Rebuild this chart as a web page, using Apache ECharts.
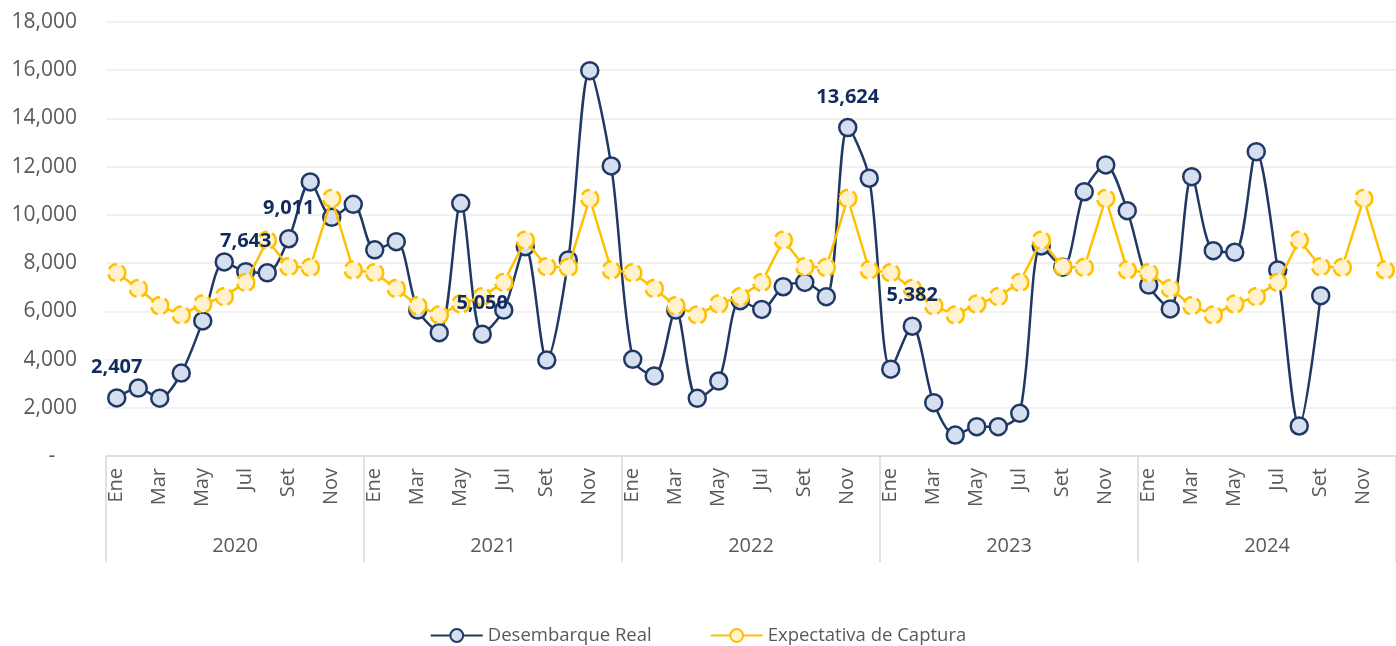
<!DOCTYPE html>
<html>
<head>
<meta charset="utf-8">
<script src="https://cdn.jsdelivr.net/npm/echarts@6/dist/echarts.min.js"></script>
<style>
  html, body { margin: 0; padding: 0; background: #fff; }
  #chart { width: 1396px; height: 646px; }
</style>
</head>
<body>
<div id="chart"></div>
<script>
// datos
const years = ['2020', '2021', '2022', '2023', '2024'];
const monthNames = ['Ene', 'Feb', 'Mar', 'Abr', 'May', 'Jun', 'Jul', 'Ago', 'Set', 'Oct', 'Nov', 'Dic'];

const desembarqueReal = [
  2407, 2820, 2400, 3440, 5600, 8050, 7643, 7600, 9011, 11365, 9900, 10440,
  8550, 8890, 6055, 5115, 10480, 5050, 6055, 8680, 3980, 8130, 15980, 12030,
  4010, 3320, 6055, 2390, 3110, 6440, 6080, 7020, 7200, 6610, 13624, 11520,
  3600, 5382, 2210, 870, 1215, 1215, 1770, 8710, 7830, 10960, 12070, 10175,
  7090, 6100, 11585, 8515, 8450, 12620, 7715, 1245, 6650, null, null, null
];
const expectativaCaptura = [
  7600, 6950, 6230, 5850, 6300, 6610, 7200, 8950, 7850, 7820, 10680, 7710,
  7600, 6950, 6230, 5850, 6300, 6610, 7200, 8950, 7850, 7820, 10680, 7710,
  7600, 6950, 6230, 5850, 6300, 6610, 7200, 8950, 7850, 7820, 10680, 7710,
  7600, 6950, 6230, 5850, 6300, 6610, 7200, 8950, 7850, 7820, 10680, 7710,
  7600, 6950, 6230, 5850, 6300, 6610, 7200, 8950, 7850, 7820, 10680, 7710
];
// puntos con etiqueta visible
const labelIdx = [0, 6, 8, 17, 34, 37];

const categories = [];
years.forEach(y => monthNames.forEach(m => categories.push(m)));

const fontFamily = '"Open Sans", "Noto Sans", sans-serif';
const gray = '#595959';

// solo los puntos etiquetados, en una serie aparte para que queden encima
const labelData = desembarqueReal.map((v, i) => labelIdx.indexOf(i) >= 0 ? v : null);

const chart = echarts.init(document.getElementById('chart'));
chart.setOption({
  animation: false,
  textStyle: { fontFamily: fontFamily },
  grid: { left: 106, right: 0, top: 22, bottom: 190 },
  legend: {
    top: 621,
    left: 'center',
    itemWidth: 52,
    itemHeight: 16,
    itemGap: 58,
    textStyle: { color: gray, fontSize: 18.5, fontFamily: fontFamily },
    data: ['Desembarque Real', 'Expectativa de Captura']
  },
  xAxis: [
    {
      type: 'category',
      data: categories,
      boundaryGap: true,
      axisLine: { lineStyle: { color: '#D9D9D9', width: 1.5 } },
      axisTick: { show: false },
      axisLabel: {
        interval: 1,
        rotate: 90,
        color: gray,
        fontSize: 20,
        margin: 12
      }
    },
    {
      type: 'category',
      data: years,
      position: 'bottom',
      boundaryGap: true,
      axisLine: { show: false },
      axisTick: { show: true, length: 106, lineStyle: { color: '#D9D9D9', width: 1.5 } },
      axisLabel: { color: gray, fontSize: 20, margin: 80 }
    }
  ],
  yAxis: {
    type: 'value',
    min: 0,
    max: 18000,
    interval: 2000,
    axisLine: { show: false },
    axisTick: { show: false },
    splitLine: { lineStyle: { color: '#EDEDED', width: 1.5 } },
    axisLabel: {
      color: gray,
      fontSize: 21,
      margin: 29,
      formatter: v => v === 0 ? '-    ' : v.toLocaleString('en-US')
    }
  },
  series: [
    {
      name: 'Desembarque Real',
      type: 'line',
      data: desembarqueReal,
      smooth: 0.3,
      symbol: 'circle',
      symbolSize: 17,
      showAllSymbol: true,
      lineStyle: { color: '#1F3864', width: 2.5 },
      itemStyle: { color: '#D6DFEF', borderColor: '#1F3864', borderWidth: 2.5 },
      z: 2
    },
    {
      name: 'Expectativa de Captura',
      type: 'line',
      data: expectativaCaptura,
      symbol: 'circle',
      symbolSize: 17,
      showAllSymbol: true,
      lineStyle: { color: '#FFC000', width: 2.5 },
      itemStyle: { color: '#FFF2CC', borderColor: '#FFC000', borderWidth: 2.5, borderType: 'dashed' },
      z: 3
    },
    {
      name: 'etiquetas',
      type: 'line',
      data: labelData,
      symbol: 'circle',
      symbolSize: 17,
      showAllSymbol: true,
      silent: true,
      lineStyle: { width: 0, color: 'transparent' },
      itemStyle: { color: 'transparent', borderWidth: 0 },
      label: {
        show: true,
        position: 'top',
        distance: 12,
        color: '#112B5E',
        fontWeight: 'bold',
        fontSize: 20,
        formatter: p => p.value.toLocaleString('en-US')
      },
      z: 5
    }
  ]
});
</script>
</body>
</html>
